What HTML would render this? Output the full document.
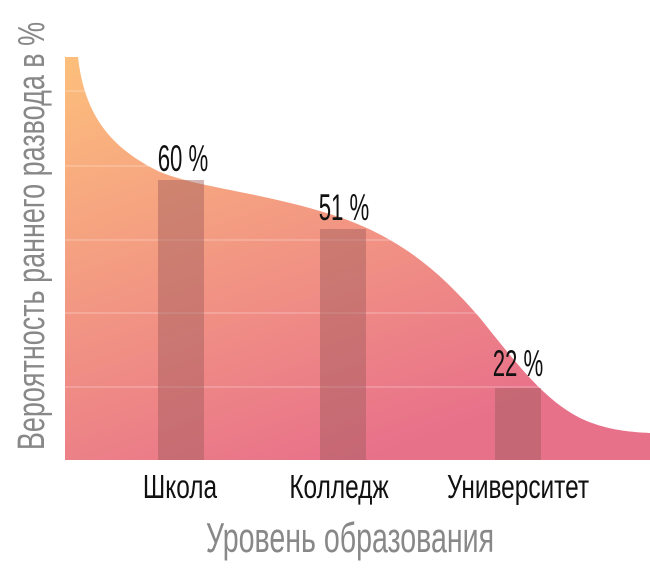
<!DOCTYPE html>
<html><head><meta charset="utf-8"><style>
body{margin:0;background:#fff;width:650px;height:582px;overflow:hidden}
svg text{font-family:"Liberation Sans",sans-serif}
</style></head><body>
<svg width="650" height="582" viewBox="0 0 650 582">
<defs>
<linearGradient id="g" x1="0" y1="0" x2="0.5" y2="1">
<stop offset="0" stop-color="#fdbf7b"/>
<stop offset="1" stop-color="#e8718a"/>
</linearGradient>
</defs>
<path d="M65,57 L78,57 C85,120 115,150 160,172 C200,188 260,192 330,214 C400,236 440,272 480,318 C520,368 545,400 580,418 C605,430 630,432 650,433 L650,460 L65,460 Z" fill="url(#g)"/>
<g stroke="#fff" stroke-opacity="0.25" stroke-width="1.5">
<line x1="65" y1="91" x2="650" y2="91"/>
<line x1="65" y1="166" x2="650" y2="166"/>
<line x1="65" y1="240" x2="650" y2="240"/>
<line x1="65" y1="313" x2="650" y2="313"/>
<line x1="65" y1="387" x2="650" y2="387"/>
</g>
<g fill="#9e5a5a" fill-opacity="0.45">
<rect x="158" y="180" width="46" height="280"/>
<rect x="320" y="229" width="46" height="231"/>
<rect x="495" y="388" width="46" height="72"/>
</g>
<g font-size="37" fill="#111" text-anchor="middle">
<text transform="translate(183,171) scale(0.6,1)">60 %</text>
<text transform="translate(344,220) scale(0.6,1)">51 %</text>
<text transform="translate(518,376) scale(0.6,1)">22 %</text>
</g>
<g font-size="33" fill="#111" text-anchor="middle">
<text transform="translate(180,498) scale(0.74,1)">Школа</text>
<text transform="translate(339,498) scale(0.74,1)">Колледж</text>
<text transform="translate(518,498) scale(0.74,1)">Университет</text>
</g>
<text transform="translate(350,552) scale(0.68,1)" font-size="42" fill="#888" text-anchor="middle">Уровень образования</text>
<text transform="translate(44,236) rotate(-90) scale(0.71,1)" font-size="38" fill="#888" text-anchor="middle">Вероятность раннего развода в %</text>
</svg>
</body></html>
